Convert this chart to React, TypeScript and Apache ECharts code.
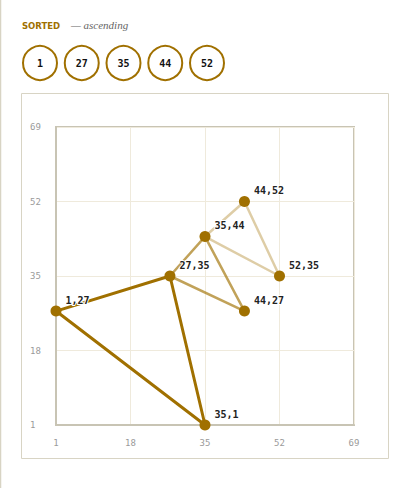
import React, { useEffect, useRef } from "react";
import * as echarts from "echarts";

const sortedKeys = [1, 27, 35, 44, 52];
const tickLabels = [1, 18, 35, 52, 69];
const pointsX = [1, 27, 35, 35, 44, 44, 52];
const pointsY = [27, 35, 1, 44, 27, 52, 35];
const triangleA = [[1, 27], [27, 35], [35, 1]];
const triangleB = [[27, 35], [35, 44], [44, 27]];
const triangleC = [[35, 44], [44, 52], [52, 35]];

const GOLD = "#a07000";
const AXIS_MIN = tickLabels[0];
const AXIS_MAX = tickLabels[tickLabels.length - 1];
const STEP = tickLabels[1] - tickLabels[0];

const shift = (p: number[]) => [p[0] - AXIS_MIN, p[1] - AXIS_MIN];
const closed = (tri: number[][]) => [...tri, tri[0]].map(shift);

export default function App() {
  const ref = useRef<HTMLDivElement>(null);
  useEffect(() => {
    document.body.style.margin = "0";
    const chart = echarts.init(ref.current!, null, { renderer: "svg" });
    const axisCommon = {
      type: "value" as const,
      min: 0,
      max: AXIS_MAX - AXIS_MIN,
      interval: STEP,
      axisLine: { show: true, lineStyle: { color: "#c8c4b4", width: 2 } },
      axisTick: { show: false },
      splitLine: { show: true, lineStyle: { color: "#efeadc", width: 1 } },
    };
    const lineSeries = (tri: number[][], opacity: number, width: number) => ({
      type: "line",
      data: closed(tri),
      symbol: "none",
      silent: true,
      lineStyle: { color: GOLD, width, opacity },
      z: 2,
    });
    const circleGraphics: any[] = sortedKeys.map((k, i) => ({
      type: "group",
      x: 40 + i * 41.75,
      y: 63,
      children: [
        {
          type: "circle",
          shape: { cx: 0, cy: 0, r: 17 },
          style: { fill: "#fff", stroke: GOLD, lineWidth: 2 },
        },
        {
          type: "text",
          x: 0,
          y: 0,
          style: {
            text: String(k),
            fill: "#111",
            font: "bold 10px 'DejaVu Sans Mono'",
            align: "center",
            verticalAlign: "middle",
          },
        },
      ],
    }));
    chart.setOption({
      animation: false,
      grid: {
        left: 56,
        top: 127,
        width: 298,
        height: 298,
        show: true,
        borderColor: "#c8c4b4",
        borderWidth: 2,
        backgroundColor: "transparent",
      },
      xAxis: {
        ...axisCommon,
        axisLabel: {
          color: "#9a9a9a",
          fontFamily: "DejaVu Sans Mono",
          fontSize: 9,
          margin: 13,
          formatter: (v: number) => String(v + AXIS_MIN),
        },
      },
      yAxis: {
        ...axisCommon,
        axisLabel: {
          color: "#9a9a9a",
          fontFamily: "DejaVu Sans Mono",
          fontSize: 9,
          align: "left",
          margin: 26,
          formatter: (v: number) => String(v + AXIS_MIN),
        },
      },
      graphic: [
        {
          type: "line",
          shape: { x1: 0.5, y1: 0, x2: 0.5, y2: 488 },
          style: { stroke: "#d8d4c4", lineWidth: 1.5 },
        },
        {
          type: "rect",
          shape: { x: 21.5, y: 93.5, width: 367, height: 365 },
          style: { fill: "none", stroke: "#d8d4c4", lineWidth: 1 },
          z: -1,
        },
        {
          type: "text",
          x: 22,
          y: 26,
          style: {
            text: "SORTED",
            fill: GOLD,
            font: "bold 8.5px 'DejaVu Sans'",
            verticalAlign: "middle",
          },
        },
        {
          type: "text",
          x: 71,
          y: 25,
          style: {
            text: "— ascending",
            fill: "#666",
            font: "italic 11px 'Liberation Serif'",
            verticalAlign: "middle",
          },
        },
        ...circleGraphics,
      ],
      series: [
        lineSeries(triangleC, 0.35, 2.5),
        lineSeries(triangleB, 0.65, 2.5),
        lineSeries(triangleA, 1, 3),
        {
          type: "scatter",
          data: pointsX.map((x, i) => shift([x, pointsY[i]])),
          symbolSize: 11,
          itemStyle: { color: GOLD, opacity: 1 },
          z: 5,
          label: {
            show: true,
            position: "right",
            distance: 4,
            offset: [0, -11],
            color: "#222",
            fontFamily: "DejaVu Sans Mono",
            fontWeight: "bold",
            fontSize: 10,
            textBorderColor: "#fff",
            textBorderWidth: 2,
            formatter: (p: any) => `${pointsX[p.dataIndex]},${pointsY[p.dataIndex]}`,
          },
        },
      ],
    });
    return () => chart.dispose();
  }, []);
  return <div ref={ref} style={{ width: 410, height: 488 }} />;
}
